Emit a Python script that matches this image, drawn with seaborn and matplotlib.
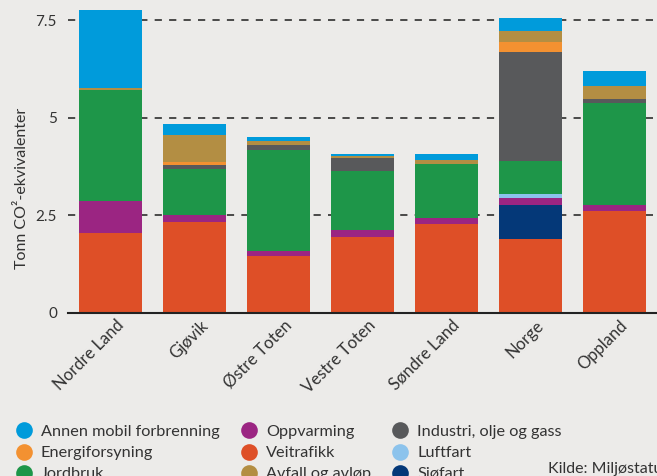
import numpy as np
import pandas as pd
import matplotlib
matplotlib.use("Agg")
import matplotlib.pyplot as plt
import matplotlib.transforms as mtransforms
from matplotlib.lines import Line2D
import seaborn as sns

# Data: tonn CO2-ekvivalenter per innbygger
steder = ["Nordre Land", "Gjøvik", "Østre Toten", "Vestre Toten", "Søndre Land", "Norge", "Oppland"]

veitrafikk = [2.05, 2.34, 1.47, 1.95, 2.28, 1.89, 2.61]
sjofart = [0.00, 0.00, 0.00, 0.00, 0.00, 0.87, 0.00]
oppvarming = [0.82, 0.17, 0.12, 0.18, 0.15, 0.18, 0.15]
luftfart = [0.00, 0.00, 0.00, 0.00, 0.00, 0.11, 0.00]
jordbruk = [2.84, 1.18, 2.58, 1.50, 1.38, 0.84, 2.61]
industri = [0.00, 0.10, 0.13, 0.34, 0.00, 2.79, 0.11]
energiforsyning = [0.00, 0.07, 0.00, 0.00, 0.00, 0.26, 0.00]
avfall = [0.05, 0.70, 0.10, 0.05, 0.11, 0.28, 0.33]
annen_mobil = [2.00, 0.28, 0.10, 0.05, 0.15, 0.33, 0.38]

# stacking order, bottom to top
lag = [
    ("Veitrafikk", veitrafikk, "#de4f27"),
    ("Sjøfart", sjofart, "#043878"),
    ("Oppvarming", oppvarming, "#9b2582"),
    ("Luftfart", luftfart, "#8cc3ec"),
    ("Jordbruk", jordbruk, "#1e9649"),
    ("Industri, olje og gass", industri, "#58595b"),
    ("Energiforsyning", energiforsyning, "#f39131"),
    ("Avfall og avløp", avfall, "#b38e43"),
    ("Annen mobil forbrenning", annen_mobil, "#009bdb"),
]

legend_order = ["Annen mobil forbrenning", "Energiforsyning", "Jordbruk",
                "Oppvarming", "Veitrafikk", "Avfall og avløp",
                "Industri, olje og gass", "Luftfart", "Sjøfart"]

bg = "#ecebe9"
sns.set_style("white", {"axes.facecolor": bg, "figure.facecolor": bg})
plt.rcParams["font.family"] = ["Lato", "DejaVu Sans"]

fig = plt.figure(figsize=(6.57, 4.76), dpi=100)
ax = fig.add_axes([68 / 657, 163 / 476, 588 / 657, 308.6 / 476])

# cumulative heights, draw from the top layer down so lower ones sit on top
df = pd.DataFrame({navn: verdier for navn, verdier, _ in lag}, index=steder)
cum = df.cumsum(axis=1)
for navn, _, farge in reversed(lag):
    sns.barplot(x=steder, y=cum[navn].values, color=farge, width=0.75,
                errorbar=None, saturation=1, linewidth=0, ax=ax, zorder=3)

ax.set_ylim(0, 7.9)
ax.set_xlim(-0.5, 6.5)
ax.set_yticks([0, 2.5, 5, 7.5])
ax.set_yticklabels(["0", "2.5", "5", "7.5"])
ax.set_axisbelow(True)
ax.yaxis.grid(True, color="#3c3c3c", linewidth=1.3, linestyle=(0, (4, 4)), zorder=0)
ax.tick_params(axis="y", length=0, pad=8, labelsize=11, labelcolor="#333333")

ax.set_xticks(range(len(steder)))
ax.set_xticklabels(steder)
ax.set_xticks(np.arange(-0.5, len(steder), 1), minor=True)
ax.tick_params(axis="x", which="major", length=0, pad=3, labelsize=12, labelcolor="#333333")
ax.tick_params(axis="x", which="minor", length=10, width=1, color="#666666")
offset = mtransforms.ScaledTranslation(4 / 72, 0, fig.dpi_scale_trans)
for lbl in ax.get_xticklabels():
    lbl.set_rotation(45)
    lbl.set_ha("right")
    lbl.set_va("top")
    lbl.set_rotation_mode("anchor")
    lbl.set_transform(lbl.get_transform() + offset)

for s in ["left", "right", "top"]:
    ax.spines[s].set_visible(False)
ax.spines["bottom"].set_color("#222222")
ax.spines["bottom"].set_linewidth(1.5)
ax.spines["bottom"].set_zorder(4)

ax.set_xlabel("")
ax.set_ylabel("Tonn CO²-ekvivalenter", fontsize=11.5, color="#333333")
ax.yaxis.set_label_coords(-0.066, 0.405)

farger = {navn: farge for navn, _, farge in lag}
handles = [Line2D([], [], marker="o", linestyle="", markersize=12,
                  markerfacecolor=farger[n], markeredgewidth=0, label=n)
           for n in legend_order]
fig.legend(handles=handles, ncol=3, loc="upper left",
           bbox_to_anchor=(0.0117, 0.125), frameon=False, fontsize=11.7,
           handlelength=1.0, handletextpad=0.55, labelspacing=0.42,
           columnspacing=1.3, borderpad=0, labelcolor="#333333")

fig.text(548 / 657, 1 - 469 / 476, "Kilde: Miljøstatus", fontsize=11.5,
         color="#333333", va="center", ha="left")

fig.savefig("out.png", dpi=100, facecolor=bg)
